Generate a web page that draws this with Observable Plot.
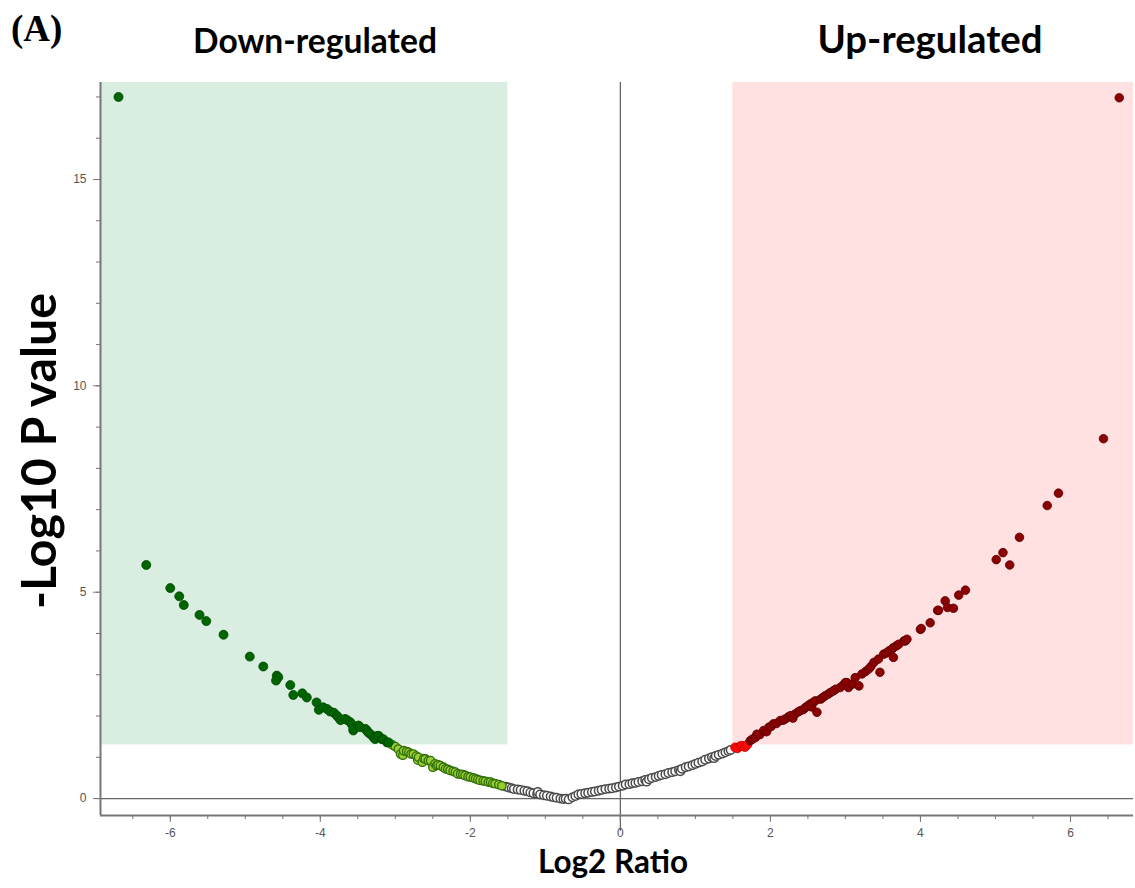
<!DOCTYPE html>
<html>
<head>
<meta charset="utf-8">
<script src="https://cdn.jsdelivr.net/npm/d3@7"></script>
<script src="https://cdn.jsdelivr.net/npm/@observablehq/plot@0.6"></script>
<style>
  html, body { margin: 0; padding: 0; background: #fff; }
  #wrap { position: relative; width: 1135px; height: 888px; overflow: hidden; }
  #wrap > svg { position: absolute; left: 0; top: 0; }
  #notes { pointer-events: none; }
</style>
</head>
<body>
<div id="wrap"></div>
<script>
// ---------- data ----------
const xDomain = [-6.93, 6.84];
const yDomain = [-0.41, 17.35];
const foldThreshold = 1.5;    // |log2 ratio|
const pThreshold = 1.3;       // -log10(0.05)

const xMajorTicks = [-6, -4, -2, 0, 2, 4, 6];
const xMinorTicks = [-6.5, -6, -5.5, -5, -4.5, -4, -3.5, -3, -2.5, -2, -1.5, -1, -0.5, 0, 0.5, 1, 1.5, 2, 2.5, 3, 3.5, 4, 4.5, 5, 5.5, 6, 6.5];
const yMajorTicks = [0, 5, 10, 15];
const yMinorTicks = [0, 1, 2, 3, 4, 5, 6, 7, 8, 9, 10, 11, 12, 13, 14, 15, 16, 17];

const headerLabels = ["Down-regulated", "Up-regulated"];
const panelLabel = "(A)";
const xLabel = "Log2 Ratio";
const yLabel = "-Log10 P value";

// down-regulated, significant (dark green)
const darkGreen = [
  [-6.69, 17.0], [-6.32, 5.66], [-6.00, 5.10], [-5.88, 4.90], [-5.82, 4.69], [-5.61, 4.45], [-5.52, 4.30],
  [-5.29, 3.97], [-4.94, 3.44], [-4.76, 3.20], [-4.58, 2.98], [-4.56, 2.94], [-4.59, 2.86], [-4.40, 2.75],
  [-4.36, 2.51], [-4.24, 2.55], [-4.18, 2.45], [-4.05, 2.33], [-4.02, 2.15], [-3.96, 2.21], [-3.91, 2.17],
  [-3.87, 2.11], [-3.82, 2.08], [-3.78, 2.01], [-3.76, 1.97], [-3.73, 1.90], [-3.67, 1.93], [-3.64, 1.90],
  [-3.60, 1.85], [-3.58, 1.80], [-3.56, 1.65], [-3.56, 1.69], [-3.49, 1.77], [-3.47, 1.73], [-3.40, 1.69],
  [-3.38, 1.65], [-3.36, 1.60], [-3.33, 1.56], [-3.29, 1.48], [-3.27, 1.44], [-3.24, 1.52], [-3.22, 1.52],
  [-3.18, 1.44], [-3.16, 1.44], [-3.11, 1.36], [-3.09, 1.36]
];
// down, fold only (light green)
const lightGreen = [
  [-3.04, 1.30], [-3.00, 1.26], [-2.96, 1.20], [-2.93, 1.08], [-2.90, 1.05], [-2.89, 1.16], [-2.85, 1.14],
  [-2.82, 1.12], [-2.79, 1.08], [-2.76, 1.08], [-2.72, 1.03], [-2.70, 0.93], [-2.69, 1.00], [-2.64, 0.88],
  [-2.62, 0.97], [-2.60, 0.96], [-2.56, 0.92], [-2.53, 0.92], [-2.50, 0.76], [-2.47, 0.84], [-2.45, 0.80],
  [-2.43, 0.82], [-2.40, 0.80], [-2.36, 0.76], [-2.33, 0.72], [-2.30, 0.71], [-2.27, 0.68], [-2.23, 0.66],
  [-2.20, 0.64], [-2.17, 0.60], [-2.13, 0.59], [-2.10, 0.58], [-2.07, 0.56], [-2.03, 0.53], [-2.00, 0.52],
  [-1.96, 0.50], [-1.93, 0.48], [-1.90, 0.46], [-1.87, 0.44], [-1.83, 0.43], [-1.80, 0.42], [-1.76, 0.40],
  [-1.73, 0.40], [-1.70, 0.37], [-1.67, 0.36], [-1.62, 0.34], [-1.58, 0.31]
];
// not changed (white with grey outline)
const unchanged = [
  [-1.53, 0.29], [-1.49, 0.27], [-1.45, 0.25], [-1.42, 0.23], [-1.37, 0.22], [-1.33, 0.21], [-1.28, 0.19],
  [-1.24, 0.18], [-1.20, 0.15], [-1.16, 0.13], [-1.11, 0.12], [-1.10, 0.16], [-1.07, 0.10], [-1.02, 0.08],
  [-0.98, 0.07], [-0.93, 0.05], [-0.89, 0.03], [-0.85, 0.02], [-0.80, 0.00], [-0.76, -0.01], [-0.73, 0.00],
  [-0.69, -0.02], [-0.64, 0.03], [-0.60, 0.06], [-0.56, 0.10], [-0.52, 0.11], [-0.47, 0.13], [-0.43, 0.14],
  [-0.38, 0.16], [-0.34, 0.17], [-0.29, 0.19], [-0.25, 0.21], [-0.20, 0.23], [-0.15, 0.24], [-0.11, 0.25],
  [-0.06, 0.27], [-0.02, 0.29], [0.03, 0.31], [0.07, 0.34], [0.12, 0.35], [0.16, 0.37], [0.20, 0.38],
  [0.24, 0.40], [0.29, 0.42], [0.33, 0.45], [0.35, 0.41], [0.38, 0.47], [0.42, 0.50], [0.47, 0.52],
  [0.51, 0.55], [0.55, 0.57], [0.60, 0.59], [0.64, 0.62], [0.69, 0.64], [0.73, 0.66], [0.78, 0.69],
  [0.80, 0.66], [0.82, 0.72], [0.87, 0.76], [0.91, 0.78], [0.96, 0.81], [1.00, 0.84], [1.04, 0.87],
  [1.09, 0.90], [1.13, 0.94], [1.18, 0.97], [1.22, 1.00], [1.25, 0.98], [1.27, 1.03], [1.31, 1.06],
  [1.36, 1.09], [1.40, 1.12], [1.44, 1.15], [1.47, 1.18]
];
// up, fold only (bright red)
const brightRed = [
  [1.53, 1.24], [1.56, 1.22], [1.60, 1.27], [1.62, 1.28], [1.66, 1.25], [1.69, 1.30]
];
// up-regulated, significant (dark red)
const darkRed = [
  [1.73, 1.40], [1.76, 1.44], [1.80, 1.48], [1.82, 1.56], [1.86, 1.55], [1.91, 1.65], [1.95, 1.62],
  [1.98, 1.73], [2.01, 1.75], [2.04, 1.81], [2.08, 1.82], [2.13, 1.89], [2.17, 1.90], [2.20, 1.93],
  [2.24, 1.98], [2.27, 2.01], [2.30, 1.95], [2.33, 2.05], [2.37, 2.10], [2.40, 2.13], [2.44, 2.16],
  [2.47, 2.21], [2.50, 2.25], [2.53, 2.29], [2.55, 2.22], [2.57, 2.33], [2.60, 2.37], [2.62, 2.09],
  [2.67, 2.41], [2.70, 2.45], [2.73, 2.49], [2.77, 2.53], [2.80, 2.57], [2.84, 2.61], [2.87, 2.65],
  [2.93, 2.69], [2.97, 2.75], [3.00, 2.81], [3.02, 2.81], [3.04, 2.69], [3.09, 2.77], [3.13, 2.93],
  [3.18, 2.73], [3.22, 3.02], [3.27, 3.08], [3.31, 3.14], [3.34, 3.20], [3.38, 3.30], [3.44, 3.38],
  [3.46, 3.06], [3.51, 3.50], [3.55, 3.53], [3.58, 3.58], [3.62, 3.62], [3.64, 3.66], [3.64, 3.42],
  [3.68, 3.70], [3.71, 3.74], [3.78, 3.82], [3.80, 3.82], [3.82, 3.86], [4.00, 4.10], [4.01, 4.12],
  [4.13, 4.26], [4.23, 4.56], [4.24, 4.56], [4.33, 4.79], [4.36, 4.63], [4.44, 4.61], [4.51, 4.93],
  [4.60, 5.05], [5.01, 5.79], [5.10, 5.96], [5.19, 5.66], [5.32, 6.33], [5.69, 7.10], [5.84, 7.40],
  [6.44, 8.72], [6.65, 16.98]
];

// shaded regions, built from the thresholds and the axis extent
const regions = [
  {x1: xDomain[0], x2: -foldThreshold, y1: pThreshold, y2: yDomain[1], fill: "#d9eee0"},
  {x1: foldThreshold, x2: xDomain[1], y1: pThreshold, y2: yDomain[1], fill: "#ffe1e1"}
];

const X = d => d[0], Y = d => d[1];
const fmt = d => String(d);

const chart = Plot.plot({
  width: 1135,
  height: 888,
  marginLeft: 100,
  marginRight: 2,
  marginTop: 82,
  marginBottom: 73,
  style: {fontFamily: "'Liberation Sans', Arial, sans-serif", fontSize: "12px", color: "#555", background: "transparent"},
  x: {domain: xDomain, axis: null},
  y: {domain: yDomain, axis: null},
  marks: [
    Plot.rect(regions, {x1: "x1", x2: "x2", y1: "y1", y2: "y2", fill: "fill"}),
    Plot.ruleY([0], {stroke: "#666", strokeWidth: 1.3}),
    Plot.ruleX([0], {stroke: "#666", strokeWidth: 1.3, y1: yDomain[1], y2: yDomain[0] - 0.38}),
    Plot.axisY({ticks: yMinorTicks, tickSize: 4, tickFormat: () => "", stroke: "#777", label: null}),
    Plot.axisY({ticks: yMajorTicks, tickSize: 7, tickPadding: 7, tickFormat: fmt, stroke: "#777", fill: "#555", fontSize: 12, label: null}),
    Plot.axisX({ticks: xMinorTicks, tickSize: 4, tickFormat: () => "", stroke: "#777", label: null}),
    Plot.axisX({ticks: xMajorTicks, tickSize: 7, tickPadding: 6, tickFormat: fmt, stroke: "#777", fill: "#555", fontSize: 12, label: null}),
    Plot.ruleX([xDomain[0]], {stroke: "#777", strokeWidth: 2}),
    Plot.ruleY([yDomain[0]], {stroke: "#777", strokeWidth: 2}),
    Plot.dot(unchanged, {x: X, y: Y, r: 4.2, fill: "#ffffff", stroke: "#4a4a4a", strokeWidth: 1.5}),
    Plot.dot(lightGreen, {x: X, y: Y, r: 4.2, fill: "#9acd32", stroke: "#2f6f0a", strokeWidth: 1.3}),
    Plot.dot(darkGreen, {x: X, y: Y, r: 4.5, fill: "#006400", stroke: "#004a00", strokeWidth: 0.8}),
    Plot.dot(brightRed, {x: X, y: Y, r: 4.5, fill: "#ff0a0a", stroke: "#cc0000", strokeWidth: 0.8}),
    Plot.dot(darkRed, {x: X, y: Y, r: 4.3, fill: "#8b0000", stroke: "#5a0000", strokeWidth: 0.8})
  ]
});
const wrap = document.getElementById("wrap");
wrap.appendChild(chart);

// ---------- text annotations (titles and axis labels) ----------
const NS = "http://www.w3.org/2000/svg";
const notes = document.createElementNS(NS, "svg");
notes.setAttribute("id", "notes");
notes.setAttribute("width", 1135);
notes.setAttribute("height", 888);
wrap.appendChild(notes);

function addText(str, {x, y, family, size, anchor = "middle", rotate = 0, targetWidth}) {
  const t = document.createElementNS(NS, "text");
  t.textContent = str;
  t.setAttribute("font-family", family);
  t.setAttribute("font-weight", "bold");
  t.setAttribute("fill", "#000");
  t.setAttribute("text-anchor", anchor);
  t.setAttribute("font-size", 100);
  t.setAttribute("transform", `translate(${x},${y}) rotate(${rotate})`);
  notes.appendChild(t);
  const w = t.getComputedTextLength();
  const fs = targetWidth ? 100 * targetWidth / w : size;
  t.setAttribute("font-size", fs.toFixed(2));
  return t;
}
const sans = "Lato, 'Open Sans', sans-serif";
addText(panelLabel, {x: 11, y: 41, family: "'Liberation Serif', 'Times New Roman', serif", anchor: "start", size: 37});
addText(headerLabels[0], {x: 315, y: 53, family: sans, targetWidth: 244});
addText(headerLabels[1], {x: 930, y: 53, family: sans, targetWidth: 225});
addText(xLabel, {x: 613, y: 873, family: sans, targetWidth: 150});
addText(yLabel, {x: 56, y: 451, family: sans, rotate: -90, targetWidth: 316});
</script>
</body>
</html>
